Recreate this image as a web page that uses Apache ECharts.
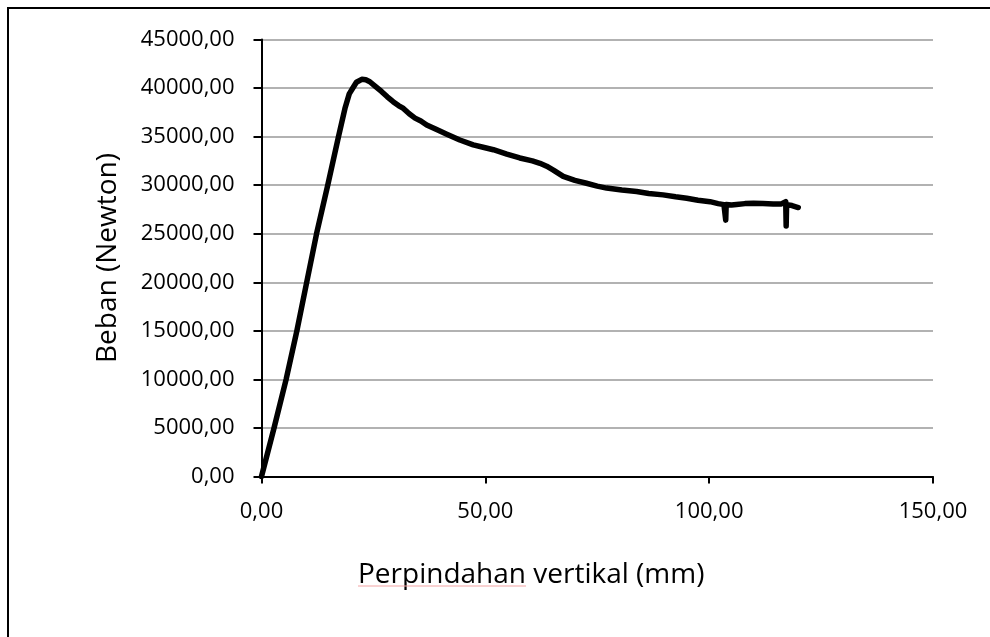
<!DOCTYPE html>
<html>
<head>
<meta charset="utf-8">
<style>
  html, body { margin: 0; padding: 0; background: #fff; }
  #chart { width: 990px; height: 637px; }
</style>
<script src="https://cdn.jsdelivr.net/npm/echarts@6/dist/echarts.min.js"></script>
</head>
<body>
<div id="chart"></div>
<script>
// Load–displacement test record
const displacement = [
  0, 2.8, 5.5, 7.9, 10.1, 12.3, 14.8, 17.2, 18.7, 19.6, 20.4, 21.2, 22.4, 23.3, 24.2,
  25.5, 26.8, 28.1, 29.4, 30.6, 31.7, 33.0, 34.3, 35.6, 36.9, 39.0, 41.4, 44.3, 47.3,
  49.5, 51.8, 54.8, 57.7, 60.5, 62.2, 63.7, 65.2, 67.4, 70.0, 72.6, 75.0, 77.1, 80.5,
  83.8, 86.5, 89.7, 92.5, 95.0, 97.5, 100.2, 102.0, 103.3, 103.7, 103.8, 105.0, 106.1,
  108.0, 109.9, 112.0, 114.3, 116.0, 117.1, 117.2, 117.3, 118.5, 119.9
];
const load = [
  0, 5000, 10000, 15000, 20000, 25000, 30000, 35000, 38000, 39400, 40000, 40600, 40900, 40850, 40650,
  40150, 39650, 39100, 38600, 38200, 37900, 37350, 36900, 36600, 36200, 35750, 35250, 34650, 34150,
  33900, 33650, 33200, 32800, 32500, 32250, 31950, 31550, 30900, 30500, 30200, 29900, 29700, 29500,
  29350, 29150, 29000, 28800, 28650, 28450, 28300, 28100, 28000, 26400, 28000, 27950, 28000,
  28100, 28150, 28100, 28050, 28050, 28300, 25800, 28000, 27900, 27700
];
const xTicks = { min: 0, max: 150, interval: 50 };
const yTicks = { min: 0, max: 45000, interval: 5000 };
const xTitle = 'Perpindahan vertikal (mm)';
const yTitle = 'Beban (Newton)';

const points = displacement.map((x, i) => [x, load[i]]);
const fmt = v => v.toFixed(2).replace('.', ',');
const FONT = 'Open Sans';

const chart = echarts.init(document.getElementById('chart'), null, { renderer: 'canvas' });
chart.setOption({
  animation: false,
  backgroundColor: '#ffffff',
  grid: { left: 261.5, right: 57, top: 39.5, bottom: 160.5, containLabel: false },
  xAxis: {
    type: 'value',
    min: xTicks.min, max: xTicks.max, interval: xTicks.interval,
    axisLine: { show: true, lineStyle: { color: '#000', width: 2 } },
    axisTick: { show: true, inside: false, length: 7, lineStyle: { color: '#000', width: 2 } },
    axisLabel: { formatter: fmt, color: '#000', fontFamily: FONT, fontSize: 22, margin: 24 },
    splitLine: { show: false }
  },
  yAxis: {
    type: 'value',
    min: yTicks.min, max: yTicks.max, interval: yTicks.interval,
    axisLine: { show: true, lineStyle: { color: '#000', width: 2 } },
    axisTick: { show: true, inside: false, length: 8, lineStyle: { color: '#000', width: 2 } },
    axisLabel: { formatter: fmt, color: '#000', fontFamily: FONT, fontSize: 22, margin: 27 },
    splitLine: { show: true, lineStyle: { color: '#999', width: 1.5 } }
  },
  series: [{
    type: 'line',
    data: points,
    showSymbol: false,
    smooth: false,
    lineStyle: { color: '#000', width: 5.5, cap: 'round', join: 'round' },
    z: 5
  }],
  graphic: [
    { type: 'line', shape: { x1: 8, y1: 7, x2: 8, y2: 637 }, style: { stroke: '#000', lineWidth: 2 } },
    { type: 'line', shape: { x1: 7, y1: 8, x2: 990, y2: 8 }, style: { stroke: '#000', lineWidth: 2 } },
    {
      type: 'text', x: 108, y: 258, rotation: Math.PI / 2,
      style: { text: yTitle, font: '28px "' + FONT + '"', fill: '#000', align: 'center', verticalAlign: 'middle' }
    },
    {
      type: 'text', x: 358, y: 575,
      style: { text: xTitle, font: '28px "' + FONT + '"', fill: '#000', align: 'left', verticalAlign: 'middle' }
    },
    { type: 'line', shape: { x1: 358, y1: 586, x2: 526, y2: 586 }, style: { stroke: '#f2a3a3', lineWidth: 1 } }
  ]
});
</script>
</body>
</html>
